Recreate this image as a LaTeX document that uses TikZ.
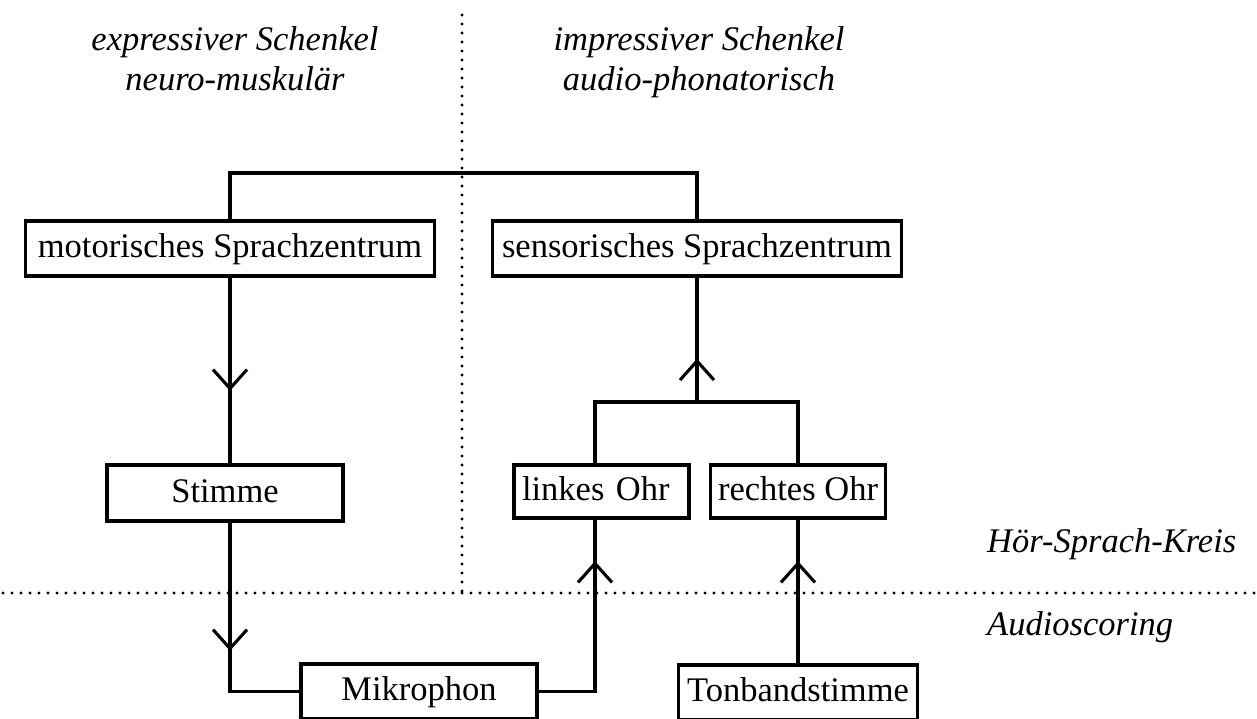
\documentclass[tikz,border=0pt]{standalone}
\usepackage{fontspec}
\setmainfont{Liberation Serif}
\usetikzlibrary{decorations.markings,calc}
\tikzset{
  box/.style={draw, line width=3.1pt, inner sep=0pt, text height=24pt, text depth=6pt,
    font=\fontsize{34.5pt}{40pt}\selectfont},
  lbl/.style={inner sep=0pt, font=\fontsize{34.5pt}{40pt}\selectfont\itshape},
  conn/.style={line width=3.1pt, line join=miter},
  midarrow/.style={postaction={decorate}, decoration={markings,
    mark=at position #1 with {\draw[line width=3.1pt, line join=miter] (-19pt,-17pt) -- (0pt,0pt) -- (-19pt,17pt);}}},
  dots/.style={line width=3.2pt, line cap=round, dash pattern=on 0pt off 9pt},
}
\begin{document}
\begin{tikzpicture}[x=1pt,y=-1pt]
\fill[white] (0,0) rectangle (1257,718);
\useasboundingbox (0,0) rectangle (1257,718);

% dotted separators
\coordinate (vt) at (462,15);
\coordinate (vb) at (462,593);
\coordinate (hl) at (3,593);
\coordinate (hr) at (1257,593);
\draw[dots] (vt) -- (vb);
\draw[dots] (hl) -- (hr);

% titles
\node[lbl, anchor=base] (t1) at (235,50) {expressiver Schenkel};
\node[lbl, anchor=base] (t2) at (235,90) {neuro-muskulär};
\node[lbl, anchor=base] (t3) at (699,50) {impressiver Schenkel};
\node[lbl, anchor=base] (t4) at (699,90) {audio-phonatorisch};
\node[lbl, anchor=base west] (hsk) at (987,552) {Hör-Sprach-Kreis};
\node[lbl, anchor=base west] (aud) at (987,635) {Audioscoring};

% boxes
\node[box, minimum width=409pt, minimum height=55pt] (mot) at (230,248.5) {motorisches Sprachzentrum};
\node[box, minimum width=409pt, minimum height=55pt] (sen) at (697,248.5) {sensorisches Sprachzentrum};
\node[box, minimum width=236pt, minimum height=56pt] (stim) at (225,493) {Stimme};
\node[box, minimum width=175pt, minimum height=53pt, text width=159pt, align=left, inner xsep=8pt] (lo) at (601.5,491.5) {linkes Ohr};
\node[box, minimum width=175pt, minimum height=53pt] (ro) at (798,491.5) {rechtes Ohr};
\node[box, minimum width=236pt, minimum height=55pt] (mik) at (419,691.5) {Mikrophon};
\node[box, minimum width=239pt, minimum height=55pt] (ton) at (798,692.5) {Tonbandstimme};

% connectors
\coordinate (tl) at (230,173);
\coordinate (tr) at (697,173);
\draw[conn] (mot.north) -- (tl) -- (tr) -- (sen.north);

\draw[conn, midarrow=111pt] (mot.south) -- (mot.south |- stim.north);

\coordinate (bl) at (230,691.5);
\draw[conn, midarrow=126pt] (stim.south -| mot.south) -- (bl) -- (mik.west);

\coordinate (br) at (595,691.5);
\draw[conn, midarrow=184.5pt] (mik.east) -- (br) -- (br |- lo.south);

\draw[conn, midarrow=100pt] (ton.north) -- (ro.south);

\coordinate (jl) at (595,402);
\coordinate (jr) at (798,402);
\coordinate (jm) at (697,402);
\draw[conn] (lo.north -| jl) -- (jl) -- (jr) -- (ro.north);
\draw[conn, midarrow=41pt] (jm) -- (sen.south);
\end{tikzpicture}
\end{document}
